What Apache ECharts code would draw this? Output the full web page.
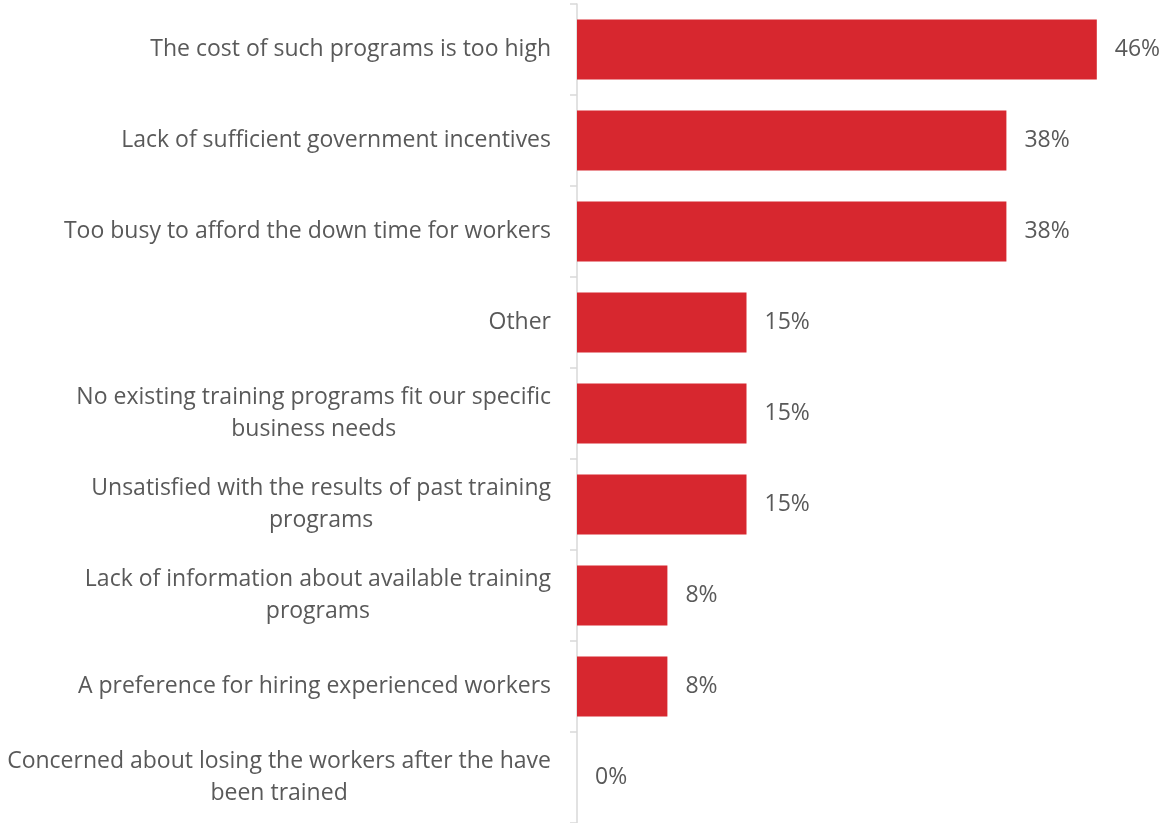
<!DOCTYPE html>
<html>
<head>
<meta charset="utf-8">
<style>
  html, body { margin: 0; padding: 0; background: #ffffff; }
  #chart { width: 1163px; height: 823px; }
</style>
<script src="https://cdn.jsdelivr.net/npm/echarts@6/dist/echarts.min.js"></script>
</head>
<body>
<div id="chart"></div>
<script>
// Reasons for not offering training programs (share of respondents, %)
const categories = [
  'The cost of such programs is too high',
  'Lack of sufficient government incentives',
  'Too busy to afford the down time for workers',
  'Other',
  'No existing training programs fit our specific\nbusiness needs',
  'Unsatisfied with the results of past training\nprograms',
  'Lack of information about available training\nprograms',
  'A preference for hiring experienced workers',
  'Concerned about losing the workers after the have\nbeen trained'
];
const shares = [46, 38, 38, 15, 15, 15, 8, 8, 0];

const FONT = '"Open Sans"';
const TEXT = '#595959';
const BAR = '#D7272F';

const chart = echarts.init(document.getElementById('chart'), null, { renderer: 'canvas' });

chart.setOption({
  animation: false,
  grid: { left: 577, right: 21, top: 4, bottom: 0, containLabel: false },
  xAxis: {
    type: 'value',
    min: 0,
    max: 50,
    show: false
  },
  yAxis: {
    type: 'category',
    inverse: true,
    data: categories,
    axisLine: { show: true, lineStyle: { color: '#d9d9d9', width: 1.5 } },
    axisTick: { show: true, length: 7, lineStyle: { color: '#d9d9d9', width: 1.5 } },
    axisLabel: {
      margin: 26,
      // each line is centred inside the right-aligned label block
      formatter: function (v) {
        return v.split('\n').map(function (s) { return '{t|' + s + '}'; }).join('\n');
      },
      rich: {
        t: {
          align: 'center',
          fontFamily: FONT,
          fontSize: 23,
          color: TEXT,
          lineHeight: 32
        }
      }
    },
    splitLine: { show: false }
  },
  series: [{
    type: 'bar',
    data: shares,
    barWidth: 60,
    itemStyle: { color: BAR },
    label: {
      show: true,
      position: 'right',
      distance: 18,
      formatter: '{c}%',
      fontFamily: FONT,
      fontSize: 23,
      color: TEXT
    }
  }]
});
</script>
</body>
</html>
